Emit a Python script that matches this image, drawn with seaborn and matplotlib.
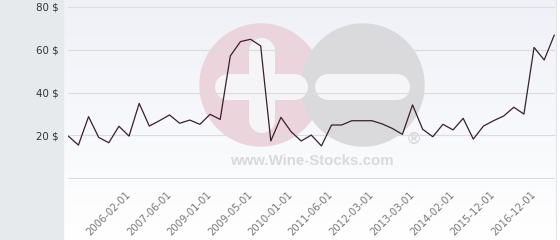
import numpy as np
import pandas as pd
import matplotlib
matplotlib.use("Agg")
import matplotlib.pyplot as plt
import seaborn as sns
from matplotlib.patches import Circle, Rectangle

# ---- data ----
prices = [19.6, 15.4, 28.7, 19.0, 16.5, 24.2, 19.6, 34.9, 24.3, 26.8,
          29.5, 25.6, 27.1, 25.1, 29.8, 27.4, 57.1, 63.8, 64.9, 61.8,
          17.3, 28.4, 21.7, 17.3, 20.1, 15.0, 24.8, 24.8, 26.8, 26.8,
          26.8, 25.3, 23.2, 20.4, 34.2, 22.8, 19.3, 25.1, 22.5, 27.9,
          18.2, 24.3, 26.8, 29.0, 33.1, 29.9, 61.1, 55.2, 66.9]
tick_index = [6, 10, 14, 18, 22, 26, 30, 34, 38, 42, 46]
tick_labels = ["2006-02-01", "2007-06-01", "2009-01-01", "2009-05-01",
               "2010-01-01", "2011-06-01", "2012-03-01", "2013-03-01",
               "2014-02-01", "2015-12-01", "2016-12-01"]
y_ticks = [0, 20, 40, 60, 80]
y_labels = ["", "20 $", "40 $", "60 $", "80 $"]

df = pd.DataFrame({"idx": np.arange(len(prices)), "price": prices})

sns.set_theme(style="white")
plt.rcParams["font.family"] = ["DejaVu Sans"]

W, H = 560, 240
fig = plt.figure(figsize=(W / 100, H / 100), dpi=100)

# ---- background layer in pixel coordinates ----
bg = fig.add_axes([0, 0, 1, 1], zorder=0)
bg.set_xlim(0, W)
bg.set_ylim(H, 0)
bg.axis("off")
grad = np.linspace(0, 1, 200)[:, None]
top = np.array([0.937, 0.945, 0.968])
bot = np.array([1.0, 1.0, 1.0])
img = top[None, None, :] * (1 - grad[..., None]) + bot[None, None, :] * grad[..., None]
bg.imshow(img, extent=(63, 556, H, 0), aspect="auto", zorder=0)
bg.add_patch(Rectangle((0, 0), 63, H, color="#e6eaed", zorder=1))
bg.plot([556, 556], [0, H], color="#e2e4e8", lw=0.8, zorder=1)
# watermark
bg.add_patch(Circle((261, 85), 61, color="#ebd4db", zorder=2))
bg.add_patch(Circle((363, 85), 61, color="#dadadc", zorder=3))
wl = 26 * 0.72
bg.plot([228, 295], [86.5, 86.5], color="#f5f5f8", lw=wl, solid_capstyle="round", zorder=4)
bg.plot([262, 262], [51, 120], color="#f5f5f8", lw=wl, solid_capstyle="round", zorder=4)
bg.plot([328, 397], [86.5, 86.5], color="#f5f5f8", lw=wl, solid_capstyle="round", zorder=4)
bg.text(312, 161, "www.Wine-Stocks.com", color="#d9d9d9", fontsize=10.8,
        fontweight="bold", family=["Liberation Sans"], ha="center", va="center", zorder=4)
bg.text(414, 139, "®", color="#d6d6d6", fontsize=12, fontweight="bold",
        family=["Liberation Sans"], ha="center", va="center", zorder=4)

# ---- main plot ----
ax_left, ax_right = 68, 555
ax_top, ax_bottom = 0, 179
ax = fig.add_axes([ax_left / W, 1 - ax_bottom / H, (ax_right - ax_left) / W,
                   (ax_bottom - ax_top) / H], zorder=2)
ax.patch.set_alpha(0)
sns.lineplot(data=df, x="idx", y="price", ax=ax, color="#3b1e2c", lw=0.9)

px_per = 10.125
x0 = -0.3 / px_per
ax.set_xlim(x0, x0 + (ax_right - ax_left) / px_per)
ppu = 171 / 80
ax.set_ylim(-1 / ppu, 80 + 7 / ppu)

ax.set_yticks(y_ticks)
ax.set_yticklabels(y_labels, fontsize=7.4, color="#333333")
ax.yaxis.grid(True, color="#dcdcdc", lw=0.8)
ax.tick_params(axis="y", length=0, pad=7)
ax.set_xticks(tick_index)
ax.set_xticklabels(tick_labels, rotation=45, ha="right", va="center",
                   rotation_mode="anchor", fontsize=7.2, color="#777777")
ax.tick_params(axis="x", length=0, pad=10)
ax.set_xlabel("")
ax.set_ylabel("")
for s in ax.spines.values():
    s.set_visible(False)

fig.savefig("out.png", dpi=100)
